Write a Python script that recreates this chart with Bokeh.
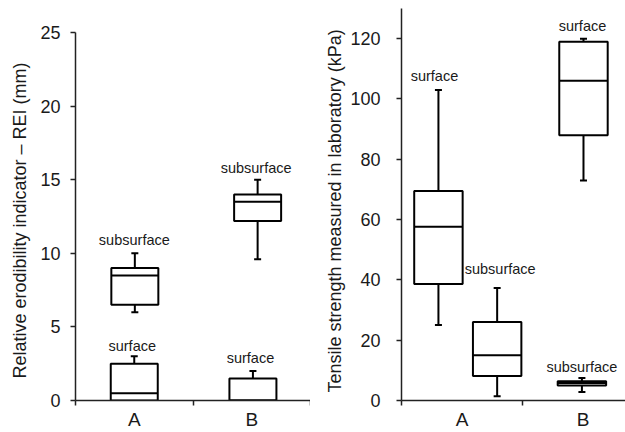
from bokeh.plotting import figure
from bokeh.layouts import row
from bokeh.models import FixedTicker, ColumnDataSource, Range1d, Title
from bokeh.core.properties import value
from bokeh.embed import file_html
from bokeh.resources import INLINE

# ---------------- data ----------------
categories = ["A", "B"]
groups = ["surface", "subsurface"]

# Left panel: Relative erodibility indicator (mm)
rei_cat = ["A", "A", "B", "B"]
rei_group = ["surface", "subsurface", "surface", "subsurface"]
rei_min = [0.0, 6.0, 0.0, 9.6]
rei_q1 = [0.0, 6.5, 0.0, 12.2]
rei_med = [0.5, 8.5, 0.0, 13.5]
rei_q3 = [2.5, 9.0, 1.5, 14.0]
rei_max = [3.0, 10.0, 2.0, 15.0]
rei_ticks = [0, 5, 10, 15, 20, 25]

# Right panel: Tensile strength measured in laboratory (kPa)
ts_cat = ["A", "A", "B", "B"]
ts_group = ["surface", "subsurface", "surface", "subsurface"]
ts_min = [25.0, 1.4, 73.0, 2.8]
ts_q1 = [38.6, 8.1, 88.0, 5.0]
ts_med = [57.6, 15.0, 106.0, 5.8]
ts_q3 = [69.5, 26.0, 119.0, 6.4]
ts_max = [103.0, 37.3, 120.0, 7.5]
ts_ticks = [0, 20, 40, 60, 80, 100, 120]

# ---------------- styles / layout ----------------
FONT = "Liberation Sans"
TXT = "#1a1a1a"
BOX_W = 0.4

left_style = dict(
    dodge=[0.0, 0.005, 0.01, 0.05],
    label_dx=[-2, -0.5, -2.5, -1.5],
    label_dy=[-10, -13, -13, -12],
    ytitle=dict(offset=22, standoff=12, vertical_align="top"),
)
right_style = dict(
    dodge=[-0.195, 0.29, 0.003, -0.01],
    label_dx=[-4, 3, -1, 0],
    label_dy=[-14, -19, -13, -11],
    ytitle=dict(offset=8, standoff=6, vertical_align="bottom"),
)


def make_panel(cat, grp, mn, q1, md, q3, mx, ticks, ylabel, y_top, y_end, x_end,
               style, width, height, bl, br, bt, bb, tick_standoff):
    xc = [categories.index(c) + 0.5 + d for c, d in zip(cat, style["dodge"])]
    src = ColumnDataSource(dict(
        x=xc,
        left=[x - BOX_W / 2 for x in xc],
        right=[x + BOX_W / 2 for x in xc],
        mn=mn, q1=q1, md=md, q3=q3, mx=mx, label=grp,
        dx=style["label_dx"], dy=style["label_dy"],
    ))
    p = figure(width=width, height=height, output_backend="svg",
               toolbar_location=None, x_range=Range1d(0, x_end),
               y_range=Range1d(0, y_end),
               min_border_left=bl, min_border_right=br,
               min_border_top=bt, min_border_bottom=bb)
    p.outline_line_color = None
    p.grid.visible = False
    p.background_fill_color = "white"
    p.border_fill_color = "white"

    # whiskers
    p.segment(x0="x", y0="q3", x1="x", y1="mx", source=src, line_color="black", line_width=2)
    p.segment(x0="x", y0="mn", x1="x", y1="q1", source=src, line_color="black", line_width=2)
    p.dash(x="x", y="mx", source=src, size=7, line_color="black", line_width=2)
    p.dash(x="x", y="mn", source=src, size=7, line_color="black", line_width=2)
    # boxes
    p.quad(left="left", right="right", bottom="q1", top="q3", source=src,
           fill_color="white", line_color="black", line_width=2)
    p.segment(x0="left", y0="md", x1="right", y1="md", source=src,
              line_color="black", line_width=2)
    # labels
    p.text(x="x", y="mx", text="label", source=src, x_offset="dx", y_offset="dy",
           text_align="center", text_baseline="middle",
           text_font=value(FONT), text_font_size="14.5px", text_color=TXT)

    # y axis
    ya = p.yaxis[0]
    ya.ticker = FixedTicker(ticks=ticks, minor_ticks=[])
    ya.bounds = (0, y_top)
    ya.major_label_text_font = FONT
    ya.major_label_text_font_size = "18px"
    ya.major_label_text_color = TXT
    ya.major_label_standoff = tick_standoff
    ya.major_tick_in = 0
    ya.major_tick_out = 5
    ya.minor_tick_out = 0
    ya.axis_line_width = 1.5
    ya.major_tick_line_width = 1.5
    ya.axis_line_color = "#222222"
    ya.major_tick_line_color = "#222222"

    # y axis title as a side title (allows an offset along the axis)
    t = style["ytitle"]
    p.add_layout(Title(text=ylabel, align="left", offset=t["offset"],
                       standoff=t["standoff"], vertical_align=t["vertical_align"],
                       text_font=FONT, text_font_size="18px",
                       text_font_style="normal", text_color=TXT), "left")

    # x axis: labels at category centres, ticks at category boundaries
    xa = p.xaxis[0]
    xa.ticker = FixedTicker(ticks=[i + 0.5 for i in range(len(categories))],
                            minor_ticks=list(range(len(categories) + 1)))
    xa.major_label_overrides = {i + 0.5: c for i, c in enumerate(categories)}
    xa.major_label_text_font = FONT
    xa.major_label_text_font_size = "19px"
    xa.major_label_text_color = TXT
    xa.major_label_standoff = 3
    xa.major_tick_in = 0
    xa.major_tick_out = 0
    xa.minor_tick_in = 0
    xa.minor_tick_out = 5
    xa.axis_line_width = 1.5
    xa.minor_tick_line_width = 1.5
    xa.axis_line_color = "#222222"
    xa.minor_tick_line_color = "#222222"
    return p


p1 = make_panel(rei_cat, rei_group, rei_min, rei_q1, rei_med, rei_q3, rei_max,
                rei_ticks, "Relative erodibility indicator \u2013 REI (mm)", 25, 26.63, 2.0,
                left_style, 310, 432, 75, 0, 8, 32, 10)
p2 = make_panel(ts_cat, ts_group, ts_min, ts_q1, ts_med, ts_q3, ts_max,
                ts_ticks, "Tensile strength measured in laboratory (kPa)", 130, 130, 1.85,
                right_style, 315, 432, 91, 0, 8, 32, 16)

layout = row(p1, p2)
open("out.html", "w").write(file_html(layout, INLINE))
